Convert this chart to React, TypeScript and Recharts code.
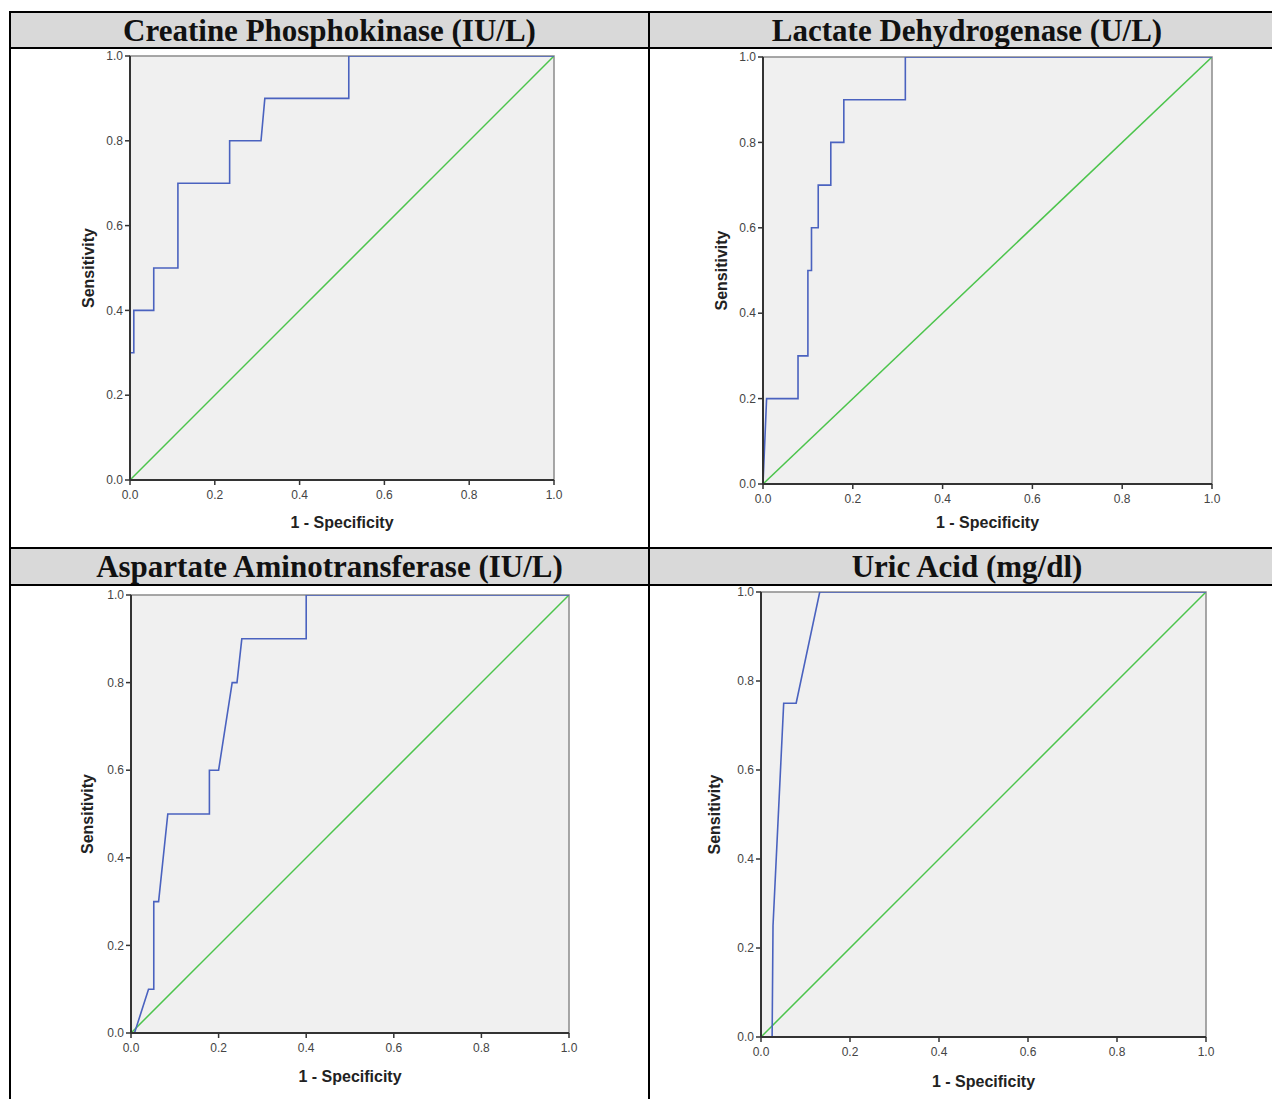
import { LineChart, Line, XAxis, YAxis, ReferenceArea } from "recharts";

// axis ticks shared by all four ROC plots
const TICKS = [0, 0.2, 0.4, 0.6, 0.8, 1.0];

// reference line
const DIAG_X = [0, 1];
const DIAG_Y = [0, 1];

// Creatine Phosphokinase
const CPK_X = [0, 0, 0.009, 0.009, 0.056, 0.056, 0.113, 0.113, 0.235, 0.235, 0.309, 0.318, 0.516, 0.516, 1];
const CPK_Y = [0, 0.3, 0.3, 0.4, 0.4, 0.5, 0.5, 0.7, 0.7, 0.8, 0.8, 0.9, 0.9, 1, 1];

// Lactate Dehydrogenase
const LDH_X = [0, 0.008, 0.078, 0.078, 0.1, 0.1, 0.108, 0.108, 0.123, 0.123, 0.151, 0.151, 0.18, 0.18, 0.317, 0.317, 1];
const LDH_Y = [0, 0.2, 0.2, 0.3, 0.3, 0.5, 0.5, 0.6, 0.6, 0.7, 0.7, 0.8, 0.8, 0.9, 0.9, 1, 1];

// Aspartate Aminotransferase
const AST_X = [0, 0.008, 0.04, 0.052, 0.052, 0.063, 0.084, 0.179, 0.179, 0.2, 0.231, 0.242, 0.253, 0.4, 0.4, 1];
const AST_Y = [0, 0, 0.1, 0.1, 0.3, 0.3, 0.5, 0.5, 0.6, 0.6, 0.8, 0.8, 0.9, 0.9, 1, 1];

// Uric Acid
const UA_X = [0, 0.025, 0.025, 0.027, 0.051, 0.079, 0.132, 1];
const UA_Y = [0, 0, 0, 0.25, 0.75, 0.75, 1, 1];

const zip = (xs: number[], ys: number[]) => xs.map((x, i) => ({ x, y: ys[i] }));

const BLUE = "#4a62bf";
const GREEN = "#4cc44c";
const SANS = "'Liberation Sans', Arial, sans-serif";
const SERIF = "'Liberation Serif', 'DejaVu Serif', serif";

type Plot = {
  xs: number[];
  ys: number[];
  l: number;
  t: number;
  r: number;
  b: number;
  yw: number; // room left of the plot (label centre = l - yw/2)
  xh: number; // room below the plot
};

function Roc({ xs, ys, l, t, r, b, yw, xh }: Plot) {
  const pad = 12;
  const padR = 20;
  const width = yw + (r - l) + padR;
  const height = pad + (b - t) + xh;
  return (
    <div style={{ position: "absolute", left: l - yw, top: t - pad }}>
      <LineChart width={width} height={height} margin={{ top: pad, right: padR, left: 0, bottom: 0 }}>
        <ReferenceArea x1={0} x2={1} y1={0} y2={1} fill="#f0f0f0" fillOpacity={1} stroke="#8a8a8a" strokeWidth={1.5} />
        <XAxis
          type="number"
          dataKey="x"
          domain={[0, 1]}
          ticks={TICKS}
          allowDataOverflow
          interval={0}
          height={xh}
          tickFormatter={(v: number) => v.toFixed(1)}
          tick={{ fontSize: 12, fill: "#444", fontFamily: SANS }}
          tickSize={5}
          tickMargin={5}
          axisLine={{ stroke: "#333", strokeWidth: 2 }}
          tickLine={{ stroke: "#333", strokeWidth: 1.5 }}
          label={{ value: "1 - Specificity", position: "center", fontSize: 16, fontWeight: "bold", fill: "#222", fontFamily: SANS }}
        />
        <YAxis
          type="number"
          dataKey="y"
          domain={[0, 1]}
          ticks={TICKS}
          allowDataOverflow
          interval={0}
          width={yw}
          tickFormatter={(v: number) => v.toFixed(1)}
          tick={{ fontSize: 12, fill: "#444", fontFamily: SANS }}
          tickSize={5}
          tickMargin={2}
          axisLine={{ stroke: "#333", strokeWidth: 2 }}
          tickLine={{ stroke: "#333", strokeWidth: 1.5 }}
          label={{ value: "Sensitivity", angle: -90, position: "center", fontSize: 16, fontWeight: "bold", fill: "#222", fontFamily: SANS }}
        />
        <Line data={zip(DIAG_X, DIAG_Y)} dataKey="y" type="linear" stroke={GREEN} strokeWidth={1.5} dot={false} isAnimationActive={false} />
        <Line data={zip(xs, ys)} dataKey="y" type="linear" stroke={BLUE} strokeWidth={1.6} dot={false} isAnimationActive={false} />
      </LineChart>
    </div>
  );
}

function Header({ left, top, width, text }: { left: number; top: number; width: number; text: string }) {
  return (
    <div
      style={{
        position: "absolute",
        left,
        top,
        width,
        height: 35,
        background: "#d9d9d9",
        display: "flex",
        alignItems: "center",
        justifyContent: "center",
        fontFamily: SERIF,
        fontWeight: "bold",
        fontSize: 31,
        color: "#111",
        whiteSpace: "nowrap",
        overflow: "hidden",
      }}
    >
      {text}
    </div>
  );
}

const line = (left: number, top: number, width: number, height: number) => (
  <div style={{ position: "absolute", left, top, width, height, background: "#000" }} />
);

export default function App() {
  return (
    <div style={{ position: "absolute", left: 0, top: 0, width: 1272, height: 1099, overflow: "hidden", background: "#fff" }}>
      <Roc xs={CPK_X} ys={CPK_Y} l={130} t={56} r={554} b={480} yw={84} xh={84} />
      <Roc xs={LDH_X} ys={LDH_Y} l={763} t={57} r={1212} b={484} yw={84} xh={76} />
      <Roc xs={AST_X} ys={AST_Y} l={131} t={595} r={569} b={1033} yw={88} xh={86} />
      <Roc xs={UA_X} ys={UA_Y} l={761} t={592} r={1206} b={1037} yw={94} xh={88} />

      <Header left={11} top={13} width={637} text="Creatine Phosphokinase (IU/L)" />
      <Header left={650} top={13} width={634} text="Lactate Dehydrogenase (U/L)" />
      <Header left={11} top={549} width={637} text="Aspartate Aminotransferase (IU/L)" />
      <Header left={650} top={549} width={634} text="Uric Acid (mg/dl)" />

      {line(9, 11, 1263, 2)}
      {line(9, 47, 1263, 2)}
      {line(9, 547, 1263, 2)}
      {line(9, 584, 1263, 2)}
      {line(9, 11, 2, 1088)}
      {line(648, 11, 2, 1088)}
    </div>
  );
}
